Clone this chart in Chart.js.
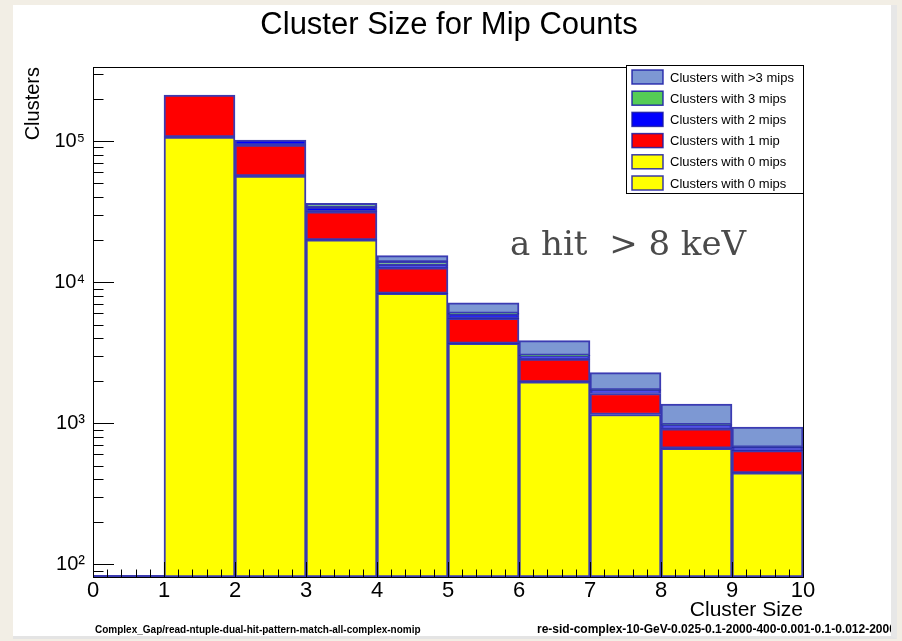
<!DOCTYPE html>
<html>
<head>
<meta charset="utf-8">
<title>Cluster Size for Mip Counts</title>
<script src="https://cdn.jsdelivr.net/npm/chart.js@4.4.1/dist/chart.umd.min.js"></script>
<style>
  html, body { margin: 0; padding: 0; }
  body { width: 902px; height: 641px; background: #f2eee5; position: relative; overflow: hidden; }
  #sheet { position: absolute; left: 13px; top: 5px; width: 878px; height: 631px; background: #fff;
           border-right: 6px solid #e7e7e7; border-bottom: 3px solid #e4e4e4; }
  #plot { position: absolute; left: 0; top: 0; }
</style>
</head>
<body>
<div id="sheet"></div>
<canvas id="plot" width="902" height="641"></canvas>
<script>
// bin n of the histogram covers cluster sizes n..n+1 (bin 0 is empty)
const binCentres = [1.5, 2.5, 3.5, 4.5, 5.5, 6.5, 7.5, 8.5, 9.5];

// clusters per bin, split by number of mips, stacked bottom to top
const zeroMips  = [106800, 56500, 19900, 8320, 3670, 1960, 1150, 663, 444];
const oneMip    = [105200, 37200, 11600, 4280, 1860, 880, 470, 249, 193];
const twoMips   = [0, 7900, 2500, 600, 400, 160, 90, 56, 36];
const threeMips = [0, 0, 2100, 700, 60, 20, 10, 5, 3];
const moreMips  = [0, 0, 0, 1500, 1130, 820, 560, 392, 260];

const seriesLabels = ['Clusters with 0 mips', 'Clusters with 1 mip', 'Clusters with 2 mips',
                      'Clusters with 3 mips', 'Clusters with >3 mips'];
const xTickValues = [0, 1, 2, 3, 4, 5, 6, 7, 8, 9, 10];
const yDecades = [100, 1000, 10000, 100000];
// legend rows top to bottom; the 0 mip histogram was added to the legend twice
const legendRows = [4, 3, 2, 1, 0, 0];

const fillColours = ['#ffff00', '#ff0000', '#0000ff', '#55cc55', '#7d98d3'];
const lineColour = 'rgba(25, 25, 165, 0.85)';
const superscript = { 2: '\u00b2', 3: '\u00b3', 4: '\u2074', 5: '\u2075' };
const sans = "'Liberation Sans', Arial, Helvetica, sans-serif";

const seriesValues = [zeroMips, oneMip, twoMips, threeMips, moreMips];

const datasets = seriesValues.map((vals, i) => ({
    label: seriesLabels[i],
    data: binCentres.map((x, j) => ({ x: x, y: vals[j] })),
    backgroundColor: fillColours[i],
    borderColor: lineColour,
    borderWidth: 2,
    borderSkipped: false,
    barPercentage: 1,
    categoryPercentage: 1
}));

// ROOT-like decorations: inward ticks, frame, boxed legend, captions
const rootStyle = {
    id: 'rootStyle',
    afterDatasetsDraw(chart) {
        const { ctx, chartArea: a, scales: { x, y } } = chart;
        ctx.save();
        // empty first bin still leaves its outline on the x axis
        ctx.strokeStyle = lineColour;
        ctx.lineWidth = 2;
        ctx.beginPath();
        ctx.moveTo(a.left, a.bottom - 1);
        ctx.lineTo(x.getPixelForValue(1), a.bottom - 1);
        ctx.stroke();

        ctx.strokeStyle = '#000';
        ctx.lineWidth = 1;
        ctx.beginPath();
        for (let d = 10; d <= 1e6; d *= 10) {
            for (let k = 1; k < 10; k++) {
                const v = d * k;
                if (v < y.min || v > y.max) continue;
                const py = Math.round(y.getPixelForValue(v)) + 0.5;
                ctx.moveTo(a.left, py);
                ctx.lineTo(a.left + (k === 1 ? 21 : 10.5), py);
            }
        }
        for (let i = 0; i <= 50; i++) {
            const px = Math.round(x.getPixelForValue(i / 5)) + 0.5;
            ctx.moveTo(px, a.bottom);
            ctx.lineTo(px, a.bottom - (i % 5 === 0 ? 15 : 7.5));
        }
        ctx.stroke();
        ctx.strokeRect(Math.round(a.left) + 0.5, Math.round(a.top) + 0.5,
                       Math.round(a.width), Math.round(a.height));
        ctx.restore();
    },
    afterDraw(chart) {
        const { ctx, chartArea: a } = chart;
        ctx.save();

        // legend box in the top right corner of the frame
        const lw = 177, lh = 128;
        const lx = a.right - lw, ly = a.top - 2;
        ctx.fillStyle = '#fff';
        ctx.fillRect(lx, ly, lw, lh);
        ctx.strokeStyle = '#000';
        ctx.lineWidth = 1;
        ctx.strokeRect(lx + 0.5, ly + 0.5, lw, lh);
        ctx.font = '13px ' + sans;
        ctx.textBaseline = 'middle';
        legendRows.forEach((di, r) => {
            const ds = chart.data.datasets[di];
            const cy = ly + 12 + r * 21.2;
            ctx.fillStyle = ds.backgroundColor;
            ctx.fillRect(lx + 6, cy - 7, 31, 14);
            ctx.strokeStyle = lineColour;
            ctx.lineWidth = 1.5;
            ctx.strokeRect(lx + 6, cy - 7, 31, 14);
            ctx.fillStyle = '#000';
            ctx.fillText(ds.label, lx + 44, cy + 1);
        });

        // title
        ctx.fillStyle = '#000';
        ctx.textAlign = 'center';
        ctx.font = '31px ' + sans;
        ctx.fillText('Cluster Size for Mip Counts', 449, 25);

        // note on the hit threshold
        ctx.textAlign = 'left';
        ctx.textBaseline = 'alphabetic';
        ctx.fillStyle = '#4a4a4a';
        ctx.font = "34px 'DejaVu Serif', 'Liberation Serif', serif";
        ctx.fillText('a hit  > 8 keV', 510, 255);

        // file names along the bottom edge, cut at the sheet border
        ctx.beginPath();
        ctx.rect(13, 5, 878, 631);
        ctx.clip();
        ctx.fillStyle = '#000';
        ctx.textBaseline = 'middle';
        ctx.font = 'bold 10px ' + sans;
        ctx.fillText('Complex_Gap/read-ntuple-dual-hit-pattern-match-all-complex-nomip', 95, 630);
        ctx.font = 'bold 12px ' + sans;
        ctx.fillText('re-sid-complex-10-GeV-0.025-0.1-2000-400-0.001-0.1-0.012-2000', 537, 630);
        ctx.restore();
    }
};

new Chart(document.getElementById('plot'), {
    type: 'bar',
    data: { datasets: datasets },
    options: {
        responsive: false,
        animation: false,
        devicePixelRatio: 1,
        layout: { padding: { left: 0, top: 67, right: 99, bottom: 0 } },
        plugins: {
            legend: { display: false },
            tooltip: { enabled: false },
            title: { display: false }
        },
        scales: {
            x: {
                type: 'linear',
                min: 0,
                max: 10,
                offset: false,
                stacked: true,
                grid: { display: false, drawTicks: false },
                border: { display: false },
                afterBuildTicks: scale => { scale.ticks = xTickValues.map(v => ({ value: v })); },
                afterFit: scale => { scale.height = 64; },
                ticks: {
                    autoSkip: false,
                    maxRotation: 0,
                    padding: 1,
                    color: '#000',
                    font: { family: sans, size: 22 }
                },
                title: {
                    display: true,
                    text: 'Cluster Size',
                    align: 'end',
                    color: '#000',
                    font: { family: sans, size: 21 },
                    padding: { top: 0, bottom: 18 }
                }
            },
            y: {
                type: 'logarithmic',
                min: 81,
                max: 335000,
                stacked: true,
                grid: { display: false, drawTicks: false },
                border: { display: false },
                afterBuildTicks: scale => { scale.ticks = yDecades.map(v => ({ value: v, major: true })); },
                afterFit: scale => { scale.width = 93; },
                ticks: {
                    padding: 8,
                    color: '#000',
                    font: { family: sans, size: 20 },
                    callback: v => '10' + superscript[Math.round(Math.log10(v))]
                },
                title: {
                    display: true,
                    text: 'Clusters',
                    align: 'end',
                    color: '#000',
                    font: { family: sans, size: 20 },
                    padding: { top: 21 }
                }
            }
        }
    },
    plugins: [rootStyle]
});
</script>
</body>
</html>
